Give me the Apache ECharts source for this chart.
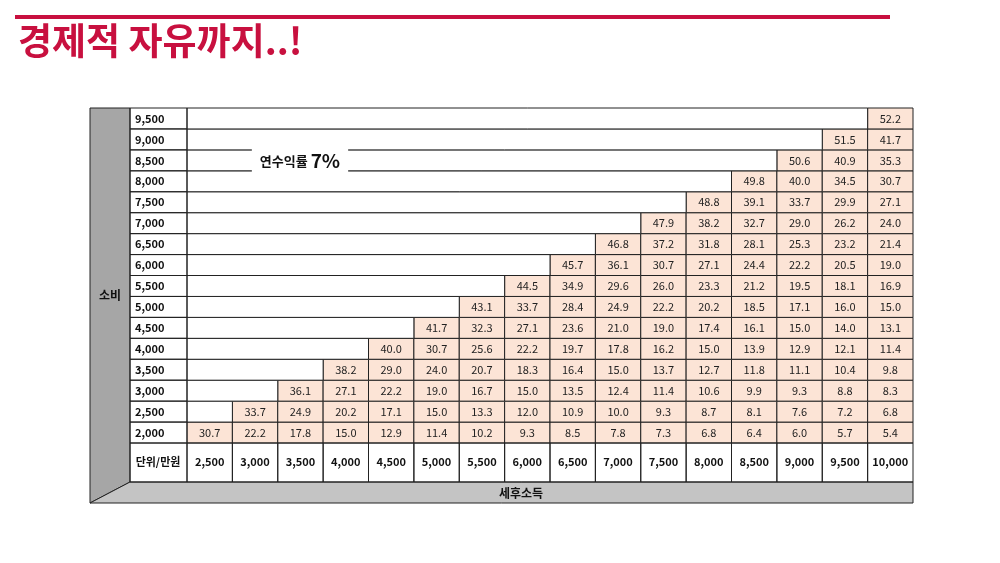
<!DOCTYPE html>
<html><head><meta charset="utf-8">
<script src="https://cdn.jsdelivr.net/npm/echarts@6/dist/echarts.min.js"></script>
<style>html,body{margin:0;background:#fff}#c{width:1000px;height:563px}</style>
</head><body><div id="c"></div>
<script>
const incomes = ['2,500','3,000','3,500','4,000','4,500','5,000','5,500','6,000','6,500','7,000','7,500','8,000','8,500','9,000','9,500','10,000'];
const spendings = ['2,000','2,500','3,000','3,500','4,000','4,500','5,000','5,500','6,000','6,500','7,000','7,500','8,000','8,500','9,000','9,500'];
// years to financial freedom; row r starts at income column r
const r2000 = [30.7,22.2,17.8,15.0,12.9,11.4,10.2,9.3,8.5,7.8,7.3,6.8,6.4,6.0,5.7,5.4];
const r2500 = [33.7,24.9,20.2,17.1,15.0,13.3,12.0,10.9,10.0,9.3,8.7,8.1,7.6,7.2,6.8];
const r3000 = [36.1,27.1,22.2,19.0,16.7,15.0,13.5,12.4,11.4,10.6,9.9,9.3,8.8,8.3];
const r3500 = [38.2,29.0,24.0,20.7,18.3,16.4,15.0,13.7,12.7,11.8,11.1,10.4,9.8];
const r4000 = [40.0,30.7,25.6,22.2,19.7,17.8,16.2,15.0,13.9,12.9,12.1,11.4];
const r4500 = [41.7,32.3,27.1,23.6,21.0,19.0,17.4,16.1,15.0,14.0,13.1];
const r5000 = [43.1,33.7,28.4,24.9,22.2,20.2,18.5,17.1,16.0,15.0];
const r5500 = [44.5,34.9,29.6,26.0,23.3,21.2,19.5,18.1,16.9];
const r6000 = [45.7,36.1,30.7,27.1,24.4,22.2,20.5,19.0];
const r6500 = [46.8,37.2,31.8,28.1,25.3,23.2,21.4];
const r7000 = [47.9,38.2,32.7,29.0,26.2,24.0];
const r7500 = [48.8,39.1,33.7,29.9,27.1];
const r8000 = [49.8,40.0,34.5,30.7];
const r8500 = [50.6,40.9,35.3];
const r9000 = [51.5,41.7];
const r9500 = [52.2];
const rows = [r2000,r2500,r3000,r3500,r4000,r4500,r5000,r5500,r6000,r6500,r7000,r7500,r8000,r8500,r9000,r9500];

const cells = [];
rows.forEach((row, r) => row.forEach((v, i) => cells.push([r + i, r, v])));
const emptyRows = rows.map((row, r) => [r, r]).filter(d => d[0] > 0);
const labelRows = spendings.map((s, r) => [0, r]);
const labelCols = incomes.map((s, c) => [c, 0]);

const FONT = "'Noto Sans CJK KR','Noto Sans',sans-serif";
const chart = echarts.init(document.getElementById('c'));
const stroke = {stroke:'#222', lineWidth:1};
chart.setOption({
  animation:false,
  textStyle:{fontFamily:FONT},
  grid:{left:187, right:87, top:108, bottom:120},
  xAxis:{type:'category', data:incomes, axisLine:{show:false}, axisTick:{show:false},
    axisLabel:{interval:0, margin:13, fontSize:11, fontWeight:'bold', color:'#111', fontFamily:FONT}},
  yAxis:{type:'category', data:spendings, axisLine:{show:false}, axisTick:{show:false},
    axisLabel:{interval:0, margin:52, align:'left', fontSize:11, fontWeight:'bold', color:'#111', fontFamily:FONT}},
  graphic:[
    {type:'rect', shape:{x:15,y:15,width:875,height:4}, style:{fill:'#c8103f'}},
    {type:'text', left:18, top:22, style:{text:'경제적 자유까지..!', font:'bold 37px '+FONT, fill:'#c8103f'}},
    {type:'polygon', shape:{points:[[90,108],[130,108],[130,482],[90,503]]}, style:{fill:'#a6a6a6', stroke:'#222'}},
    {type:'polygon', shape:{points:[[90,503],[130,482],[913,482],[913,503]]}, style:{fill:'#c4c4c4', stroke:'#222'}},
    {type:'text', x:110, y:295, style:{text:'소비', font:'bold 12px '+FONT, fill:'#111', align:'center', verticalAlign:'middle'}},
    {type:'text', x:521, y:493, style:{text:'세후소득', font:'bold 12px '+FONT, fill:'#111', align:'center', verticalAlign:'middle'}},
    {type:'text', x:158, y:462, z:10, style:{text:'단위/만원', font:'bold 11px '+FONT, fill:'#111', align:'center', verticalAlign:'middle'}},
    {type:'text', x:300, y:161, z:100, style:{text:'{a|연수익률 }{b|7%}', align:'center', verticalAlign:'middle',
      backgroundColor:'#fff', padding:[3,8],
      rich:{a:{font:'bold 13px '+FONT, fill:'#111'}, b:{font:'bold 19px '+FONT, fill:'#111'}}}}
  ],
  series:[
    {type:'custom', data:cells, z:3, renderItem:(p, api) => {
      const c = api.coord([api.value(0), api.value(1)]), s = api.size([1,1]);
      return {type:'group', children:[
        {type:'rect', shape:{x:c[0]-s[0]/2, y:c[1]-s[1]/2, width:s[0], height:s[1]}, style:Object.assign({fill:'#fce4d6'}, stroke)},
        {type:'text', style:{x:c[0], y:c[1], text:api.value(2).toFixed(1), align:'center', verticalAlign:'middle', font:'11px '+FONT, fill:'#222'}}
      ]};
    }},
    {type:'custom', data:emptyRows, z:3, renderItem:(p, api) => {
      const a = api.coord([0, api.value(1)]), s = api.size([1,1]);
      const x0 = a[0]-s[0]/2, w = s[0]*api.value(0);
      return {type:'rect', shape:{x:x0, y:a[1]-s[1]/2, width:w, height:s[1]}, style:Object.assign({fill:'#fff'}, stroke)};
    }},
    {type:'custom', data:labelRows, z:3, renderItem:(p, api) => {
      const a = api.coord([0, api.value(1)]), s = api.size([1,1]);
      return {type:'rect', shape:{x:a[0]-s[0]/2-57, y:a[1]-s[1]/2, width:57, height:s[1]}, style:Object.assign({fill:'none'}, stroke)};
    }},
    {type:'custom', data:labelCols, z:3, renderItem:(p, api) => {
      const a = api.coord([api.value(0), 0]), s = api.size([1,1]);
      const ch = [{type:'rect', shape:{x:a[0]-s[0]/2, y:a[1]+s[1]/2, width:s[0], height:39}, style:Object.assign({fill:'none'}, stroke)}];
      if (api.value(0) === 0) ch.push({type:'rect', shape:{x:a[0]-s[0]/2-57, y:a[1]+s[1]/2, width:57, height:39}, style:Object.assign({fill:'none'}, stroke)});
      return {type:'group', children:ch};
    }}
  ]
});
</script></body></html>
